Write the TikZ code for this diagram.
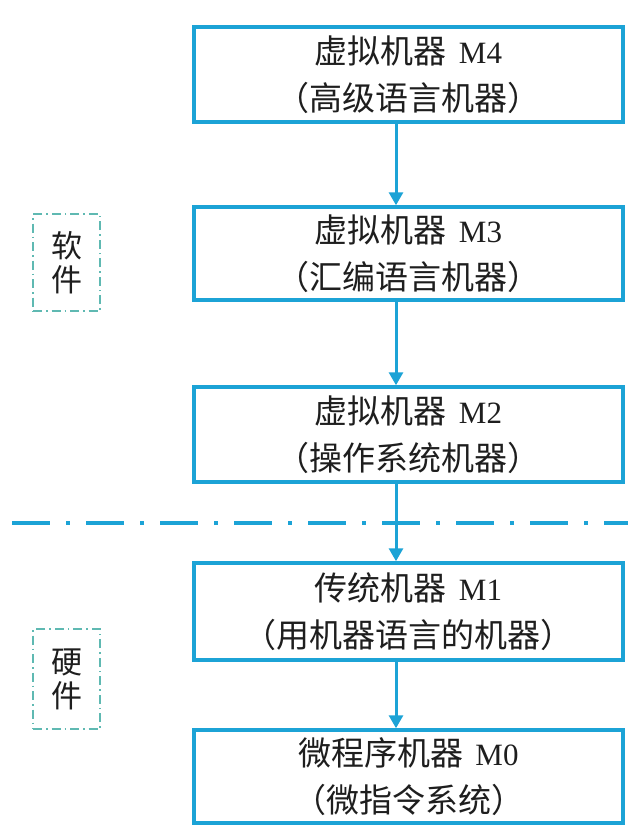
\documentclass[tikz,border=0pt]{standalone}
\usepackage{fontspec}
\setmainfont{Noto Sans CJK SC}
\newfontfamily\latinserif{Liberation Serif}
\usetikzlibrary{arrows.meta}

\definecolor{lineblue}{RGB}{28,163,214}
\definecolor{labelteal}{RGB}{95,185,178}
\definecolor{txtgray}{RGB}{30,30,30}

\tikzset{every picture/.style={line width=0.75pt}}
\tikzset{
  machine/.style={draw=lineblue, line width=3.5pt, minimum width=429pt, minimum height=95pt,
    inner sep=0pt, align=center, text=txtgray, font=\fontsize{33}{47}\selectfont},
  layerlabel/.style={draw=labelteal, line width=1.6pt, dash pattern=on 9pt off 4pt on 1.5pt off 4pt,
    minimum width=67pt, minimum height=97pt, inner sep=0pt, align=center, text=txtgray,
    font=\fontsize{31}{34}\selectfont},
  flow/.style={draw=lineblue, line width=3pt, -{Triangle[width=14pt,length=13pt]}}
}
\newcommand{\mlabel}[1]{\hspace{12pt}{\latinserif\fontsize{31}{47}\selectfont #1}}

\begin{document}
\begin{tikzpicture}[x=1pt,y=1pt,yscale=-1]
%set diagram left start at 0, and has height of 825
\path[fill=white] (0,0) rectangle (630,825);
\useasboundingbox (0,0) rectangle (630,825);

%Shape: Rectangle [id:m4]
\node[machine] (m4) at (408.5,74.5) {虚拟机器\mlabel{M4}\\（高级语言机器）};
%Shape: Rectangle [id:m3]
\node[machine, minimum height=93pt] (m3) at (408.5,253.5) {虚拟机器\mlabel{M3}\\（汇编语言机器）};
%Shape: Rectangle [id:m2]
\node[machine] (m2) at (408.5,434.5) {虚拟机器\mlabel{M2}\\（操作系统机器）};
%Shape: Rectangle [id:m1]
\node[machine, minimum height=97pt] (m1) at (408.5,611.5) {传统机器\mlabel{M1}\\（用机器语言的机器）};
%Shape: Rectangle [id:m0]
\node[machine, minimum height=93pt] (m0) at (408.5,776.5) {微程序机器\mlabel{M0}\\（微指令系统）};

%Shape: Rectangle [id:soft]
\node[layerlabel] (soft) at (66.5,262.5) {软\\件};
%Shape: Rectangle [id:hard]
\node[layerlabel, minimum height=100pt] (hard) at (66.5,679) {硬\\件};

%Straight Lines [id:sep]
\coordinate (sepl) at (12,523);
\coordinate (sepr) at (628,523);
\draw[lineblue, line width=4pt, dash pattern=on 38pt off 16pt on 4pt off 16pt] (sepl) -- (sepr);

%Straight Lines with arrows
\draw[flow] ([xshift=-12.5pt]m4.south) -- ([xshift=-12.5pt]m3.north);
\draw[flow] ([xshift=-12.5pt]m3.south) -- ([xshift=-12.5pt]m2.north);
\draw[flow] ([xshift=-12.5pt]m2.south) -- ([xshift=-12.5pt]m1.north);
\draw[flow] ([xshift=-12.5pt]m1.south) -- ([xshift=-12.5pt]m0.north);

\end{tikzpicture}
\end{document}
